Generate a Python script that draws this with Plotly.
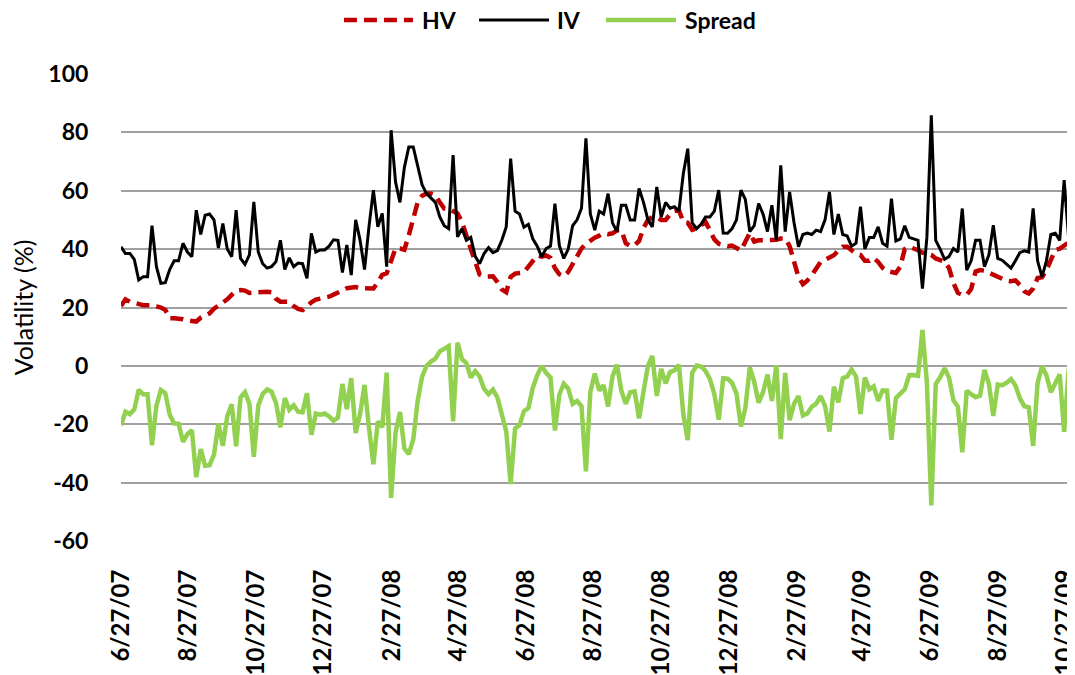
import plotly.graph_objects as go
import pandas as pd

# ---------------- data ----------------
start_date = "2007-06-27"
step_days = 4

hv = [
    20.5, 22.8, 22, 21.6, 21.2, 20.8, 20.8, 20.8, 20.4, 20,
    19.2, 16.3, 16.3, 16.2, 16, 15.6, 15.4, 15.2, 16.5, 17.4,
    18, 19.6, 20.7, 21.4, 22.8, 24.3, 25.8, 26, 25.8, 25,
    25.1, 25.4, 25.4, 25.4, 25.2, 23, 22, 22, 22, 20.5,
    19.5, 19.1, 20.6, 21.8, 22.7, 23, 23.4, 23.7, 24.4, 25.3,
    25.8, 26.6, 26.9, 27, 26.6, 26.5, 26.5, 26.5, 28.6, 31.2,
    31.7, 35.5, 40.2, 40.2, 39.8, 44.8, 49.8, 56, 58.3, 59,
    59, 58.5, 56, 53.9, 53.8, 53.2, 52.2, 49.3, 44, 40,
    35.7, 31.3, 30.6, 30.8, 30.7, 28.7, 26.2, 25.2, 30.5, 31.6,
    31.7, 32, 34, 36, 37.8, 37.4, 37.8, 37, 33.5, 31.4,
    30.7, 32.2, 35, 38, 40.2, 41.8, 43.1, 43.9, 44.6, 45.4,
    45.1, 45.4, 46.4, 46.5, 42, 41, 41.3, 42.8, 47.2, 50,
    51, 51, 50, 50, 51.9, 53, 53.3, 49.3, 49, 46.6,
    47.1, 48.3, 49.3, 46.5, 43.3, 41.8, 41.3, 41, 41.2, 40.5,
    39.5, 42.5, 45.5, 42.6, 43, 43, 43, 43, 43.2, 43.6,
    43.6, 41, 36, 30.5, 28, 29.2, 31, 33.6, 35.6, 36.3,
    37.1, 37.9, 39.5, 40.8, 40.8, 39.8, 38.4, 38, 36, 36,
    37, 35.6, 33.6, 32.5, 32, 31.8, 34, 40, 40.8, 40.3,
    39.6, 38.8, 38.3, 38, 36.8, 36.1, 35.7, 33.5, 28.4, 25,
    24.3, 24.3, 26.3, 32.3, 32.8, 32.6, 31.9, 31.1, 30.4, 29.6,
    29.2, 29, 29.3, 27.7, 25.6, 24.8, 26.5, 30.1, 30.4, 32.8,
    36, 39.7, 40.1, 41, 42.3, 45.5,
]

iv = [
    40.8, 38.5, 38.5, 36.5, 29.4, 30.5, 30.5, 48, 34, 28.3,
    28.5, 33, 36, 36, 42, 39, 37.4, 53.3, 45, 51.6,
    52, 50, 40.4, 48.8, 40, 37.4, 53.3, 36.8, 34.8, 38,
    56.2, 39, 35, 33.5, 34, 35.7, 43, 33, 37, 34,
    35.2, 35, 30, 45.4, 39, 39.7, 39.7, 41, 43.2, 43,
    32, 41.4, 31.1, 50, 43, 33, 47.6, 60.2, 47.6, 52.2,
    34, 80.7, 63, 56, 68, 75, 75, 68, 62, 59,
    57.5, 56, 51, 48, 47, 72.2, 44.2, 47, 43, 44,
    37.5, 35, 38.5, 40.5, 38.8, 39.5, 43, 47.6, 71, 53,
    52, 47.5, 48.5, 43.5, 41, 37.4, 40.2, 41, 55.6, 41.2,
    36.8, 40, 48, 50, 54, 77.9, 52, 46.5, 53, 52,
    59, 49, 46, 55, 55, 50, 50, 60.8, 56, 50,
    47.6, 61.3, 51, 56, 54, 54.5, 53, 65.9, 74.4, 49,
    47, 48.5, 51, 51, 53, 60.2, 45.5, 45.4, 47, 50,
    60.2, 57, 46, 48, 55.6, 52, 46, 55, 43, 68.7,
    46, 59.6, 49, 40.8, 45, 45.5, 45, 46.5, 46, 50,
    59.6, 45, 52, 45, 44.5, 41, 42, 54.5, 40, 44,
    44, 47.6, 42, 41, 57.3, 42.8, 43.5, 48, 44, 43.4,
    43, 26.5, 44, 85.8, 43, 40, 36.5, 37.5, 40.2, 39,
    53.9, 32.8, 36, 43, 43, 34, 38, 48.2, 36.8, 36.2,
    35, 33.5, 36, 38.8, 39.4, 39, 53.9, 36, 30.5, 36,
    45, 45.4, 43, 63.6, 44, 39,
]

spread = [
    -20.3, -15.7, -16.5, -14.9, -8.2, -9.7, -9.7, -27.2, -13.6, -8.3,
    -9.3, -16.7, -19.7, -19.8, -26, -23.4, -22, -38.1, -28.5, -34.2,
    -34, -30.4, -19.7, -27.4, -17.2, -13.1, -27.5, -10.8, -9, -13,
    -31.1, -13.6, -9.6, -8.1, -8.8, -12.7, -21, -11, -15, -13.5,
    -15.7, -15.9, -9.4, -23.6, -16.3, -16.7, -16.3, -17.3, -18.8, -17.7,
    -6.2, -14.8, -4.2, -23, -16.4, -6.5, -21.1, -33.7, -19, -21,
    -2.3, -45.2, -22.8, -15.8, -28.2, -30.2, -25.2, -12, -3.7, 0,
    1.5, 2.5, 5, 5.9, 6.8, -19, 8, 2.3, 1, -4,
    -1.8, -3.7, -7.9, -9.7, -8.1, -10.8, -16.8, -22.4, -40.5, -21.4,
    -20.3, -15.5, -14.5, -7.5, -3.2, 0, -2.4, -4, -22.1, -9.8,
    -6.1, -7.8, -13, -12, -13.8, -36.1, -8.9, -2.6, -8.4, -6.6,
    -13.9, -3.6, 0.4, -8.5, -13, -9, -8.7, -18, -8.8, 0,
    3.4, -10.3, -1, -6, -2.1, -1.5, 0.3, -16.6, -25.4, -2.4,
    0.1, -0.2, -1.7, -4.5, -9.7, -18.4, -4.2, -4.4, -5.8, -9.5,
    -20.7, -14.5, -0.5, -5.4, -12.6, -9, -3, -12, 0.2, -25.1,
    -2.4, -18.6, -13, -10.3, -17, -16.3, -14, -12.9, -10.4, -13.7,
    -22.5, -7.1, -12.5, -4.2, -3.7, -1.2, -3.6, -16.5, -4, -8,
    -7, -12, -8.4, -8.5, -25.3, -11, -9.5, -8, -3.2, -3.1,
    -3.4, 12.3, -5.7, -47.8, -6.2, -3.9, -0.8, -4, -11.8, -14,
    -29.6, -8.5, -9.7, -10.7, -10.2, -1.4, -6.1, -17.1, -6.4, -6.6,
    -5.8, -4.5, -6.7, -11.1, -13.8, -14.2, -27.4, -5.9, -0.1, -3.2,
    -9, -5.7, -2.9, -22.6, -1.7, 6.5,
]

x_tick_dates = [
    "2007-06-27", "2007-08-27", "2007-10-27", "2007-12-27", "2008-02-27",
    "2008-04-27", "2008-06-27", "2008-08-27", "2008-10-27", "2008-12-27",
    "2009-02-27", "2009-04-27", "2009-06-27", "2009-08-27", "2009-10-27",
]
x_tick_labels = [
    "6/27/07", "8/27/07", "10/27/07", "12/27/07", "2/27/08",
    "4/27/08", "6/27/08", "8/27/08", "10/27/08", "12/27/08",
    "2/27/09", "4/27/09", "6/27/09", "8/27/09", "10/27/09",
]
y_tick_vals = [-60, -40, -20, 0, 20, 40, 60, 80, 100]
y_tick_labels = ["-60", "-40", "-20", "0", "20", "40", "60", "80", "100"]

series_names = ["HV", "IV", "Spread"]
series_colors = ["#C00000", "#000000", "#92D050"]
series_widths = [4.5, 3, 4.5]
series_dash = ["13px,7px", "solid", "solid"]

dates = pd.date_range(start_date, periods=len(hv), freq=f"{step_days}D")

# ---------------- figure ----------------
# the page body has an 8px default margin, so the figure is sized to fit
# the 1075x675 window from that offset
FONT = "Lato"
fig = go.Figure()
for name, values, color, width, dash in zip(series_names, [hv, iv, spread],
                                            series_colors, series_widths, series_dash):
    fig.add_trace(go.Scatter(x=dates, y=values, mode="lines", name=name,
                             showlegend=False,
                             line=dict(color=color, width=width, dash=dash)))

# legend drawn in the top margin (Excel style: long line samples)
legend_y = 1.113                      # paper units, above the plot area
legend_line_x = [(0.2342, 0.3067), (0.3761, 0.4496), (0.5095, 0.5830)]
legend_text_x = [0.3141, 0.4559, 0.5903]
for name, color, width, dash, (x0, x1), tx in zip(series_names, series_colors,
                                                  series_widths, series_dash,
                                                  legend_line_x, legend_text_x):
    fig.add_shape(type="line", xref="paper", yref="paper",
                  x0=x0, x1=x1, y0=legend_y, y1=legend_y,
                  line=dict(color=color, width=width, dash=dash))
    fig.add_annotation(text=name, xref="paper", yref="paper", x=tx, y=legend_y,
                       xanchor="left", yanchor="middle", showarrow=False,
                       font=dict(family=FONT, size=23, weight="bold", color="#000000"))

fig.update_layout(
    width=1067, height=667,
    margin=dict(l=113, r=2, t=65, b=133, autoexpand=False),
    paper_bgcolor="white", plot_bgcolor="white",
    font=dict(family=FONT, color="#000000"),
    xaxis=dict(type="date", range=[dates[0], dates[-1]],
               tickmode="array", tickvals=x_tick_dates, ticktext=x_tick_labels,
               tickangle=-90, showgrid=False, zeroline=False, showline=False,
               ticks="outside", ticklen=17, tickcolor="rgba(0,0,0,0)",
               ticklabeloverflow="allow",
               tickfont=dict(family=FONT, size=24, weight="bold", color="#000000")),
    yaxis=dict(range=[-60.3, 100.3], tickmode="array",
               tickvals=y_tick_vals, ticktext=y_tick_labels,
               showgrid=True, gridcolor="#A0A0A0", gridwidth=1.5,
               zeroline=False, showline=False,
               ticks="outside", ticklen=27, tickcolor="rgba(0,0,0,0)",
               tickfont=dict(family=FONT, size=23, weight="bold", color="#000000"),
               title=dict(text="Volatility (%)", standoff=28,
                          font=dict(family=FONT, size=25, color="#000000"))),
)

fig.write_html("out.html")
